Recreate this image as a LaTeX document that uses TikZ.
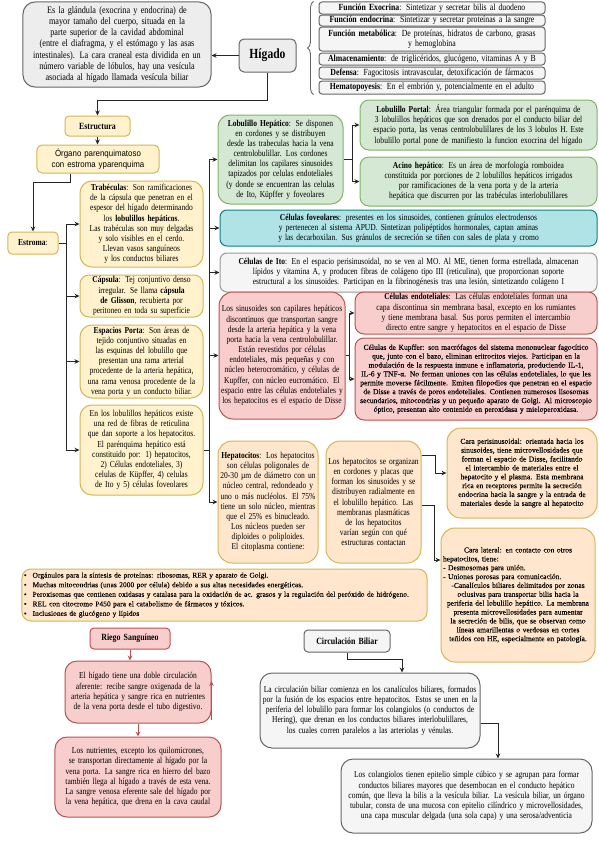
\documentclass[tikz,border=0pt]{standalone}
\usepackage{fontspec}
\setmainfont{Liberation Serif}[FakeStretch=0.83]
\newfontfamily\sansf{Liberation Sans}[FakeStretch=0.9]
\newfontfamily\wfont{Liberation Serif}[FakeBold=0.1]
\newfontfamily\lsfont{Liberation Serif}[LetterSpace=1,FakeBold=0.1]
\usetikzlibrary{arrows.meta,decorations.pathreplacing}
\definecolor{gfill}{HTML}{F5F5F5}
\definecolor{gdraw}{HTML}{666666}
\definecolor{yfill}{HTML}{FFF2CC}
\definecolor{ydraw}{HTML}{D6B656}
\definecolor{vfill}{HTML}{D5E8D4}
\definecolor{vdraw}{HTML}{82B366}
\definecolor{tfill}{HTML}{B0E3E6}
\definecolor{tdraw}{HTML}{0E8088}
\definecolor{rfill}{HTML}{F8CECC}
\definecolor{rdraw}{HTML}{B85450}
\definecolor{pfill}{HTML}{FFE6CC}
\definecolor{pdraw}{HTML}{D79B00}
\newcommand\fsD{\fontsize{9.9}{11.2}\selectfont}
\newcommand\fsM{\fontsize{9.1}{10.2}\selectfont}
\newcommand\fsF{\fontsize{9.4}{10}\selectfont}
\newcommand\fsS{\wfont\fontsize{7.6}{8.9}\selectfont}
\newcommand\fsB{\lsfont\fontsize{7.4}{9.6}\selectfont}
\newcommand\bx[7]{%
  \pgfmathsetmacro\tw{#4-4}%
  \node[box,#6,minimum width=#4bp,minimum height=#5bp,text width=\tw bp] (#1) at ({#2+#4/2},{#3+#5/2}) {#7};}
\begin{document}
\hyphenpenalty=10000 \exhyphenpenalty=10000
\begin{tikzpicture}[x=1bp,y=-1bp,
  box/.style={draw, rounded corners=9bp, align=center, inner xsep=2bp, inner ysep=1bp, line width=1bp, font=\fsM},
  gbox/.style={fill=gfill, draw=gdraw},
  ybox/.style={fill=yfill, draw=ydraw},
  vbox/.style={fill=vfill, draw=vdraw},
  tbox/.style={fill=tfill, draw=tdraw},
  rbox/.style={fill=rfill, draw=rdraw},
  pbox/.style={fill=pfill, draw=pdraw},
  fbox/.style={fill=gfill, draw=gdraw, rounded corners=3bp, font=\fsF},
  arr/.style={-{Stealth[length=5bp,width=4.5bp]}, line width=0.9bp, draw=black!85},
  ln/.style={line width=0.9bp, draw=black!85},
  arrr/.style={-{Stealth[length=5bp,width=4.5bp]}, line width=0.9bp, draw=rdraw}]
\fill[white] (0,0) rectangle (599,848);
\useasboundingbox (0,0) rectangle (599,848);

% top
\bx{desc}{23}{2}{188}{85}{gbox,fill=black!7,rounded corners=12bp,font=\fsD}{Es la glándula (exocrina y endocrina) de mayor tamaño del cuerpo, situada en la parte superior de la cavidad abdominal (entre el diafragma, y el estómago y las asas intestinales). La cara craneal esta dividida en un número variable de lóbulos, hay una vesícula asociada al hígado llamada vesícula biliar}
\bx{higado}{239}{39}{57}{33}{gbox,fill=black!7,rounded corners=5bp,font=\fontsize{14}{16}\selectfont\bfseries}{Hígado}
\bx{f1}{319}{2}{226}{12}{fbox}{\textbf{Función Exocrina}: Sintetizar y secretar bilis al duodeno}
\bx{f2}{319}{15}{226}{11}{fbox}{\textbf{Función endocrina}: Sintetizar y secretar proteínas a la sangre}
\bx{f3}{319}{27}{226}{24}{fbox}{\textbf{Función metabólica}: De proteínas, hidratos de carbono, grasas\\ y hemoglobina}
\bx{f4}{319}{53}{226}{12}{fbox}{\textbf{Almacenamiento}: de triglicéridos, glucógeno, vitaminas A y B}
\bx{f5}{319}{67}{226}{12}{fbox}{\textbf{Defensa}: Fagocitosis intravascular, detoxificación de fármacos}
\bx{f6}{319}{81}{226}{13}{fbox}{\textbf{Hematopoyesis}: En el embrión y, potencialmente en el adulto}
\draw[gdraw, line width=0.9bp, decorate, decoration={brace, amplitude=6bp}] ([xshift=-5bp]f6.south west) -- ([xshift=-5bp]f1.north west);

% structure
\bx{estructura}{65}{116}{65}{20}{ybox,rounded corners=4bp,font=\fontsize{9.5}{11}\selectfont\bfseries}{Estructura}
\bx{organo}{37}{145}{122}{28}{ybox,rounded corners=5bp,font=\sansf\fontsize{8.8}{11.5}\selectfont}{Órgano parenquimatoso con estroma yparenquima}
\bx{estroma}{8}{232}{50}{22}{ybox,rounded corners=4bp}{\textbf{Estroma}:}
\bx{trab}{80}{181}{123}{86}{ybox,rounded corners=12bp}{\textbf{Trabéculas}: Son ramificaciones de la cápsula que penetran en el espesor del hígado determinando los \textbf{lobulillos hepáticos}.\\ Las trabéculas son muy delgadas y solo visibles en el cerdo. Llevan vasos sanguíneos y los conductos biliares}
\bx{caps}{80}{275}{123}{42}{ybox}{\textbf{Cápsula}: Tej conjuntivo denso irregular. Se llama \textbf{cápsula de Glisson}, recubierta por peritoneo en toda su superficie}
\bx{porta}{80}{325}{123}{73}{ybox,rounded corners=12bp}{\textbf{Espacios Porta}: Son áreas de tejido conjuntivo situadas en las esquinas del lobulillo que presentan una rama arterial procedente de la arteria hepática, una rama venosa procedente de la vena porta y un conducto biliar.}
\bx{enlos}{80}{405}{123}{90}{ybox,rounded corners=12bp}{En los lobulillos hepáticos existe una red de fibras de reticulina que dan soporte a los hepatocitos.\\ El parénquima hepático está constituido por: 1) hepatocitos, 2) Células endoteliales, 3) celulas de Küpffer, 4) celulas de Ito y 5) células foveolares}

% right column
\bx{lobhep}{218}{115}{125}{89}{vbox,rounded corners=12bp}{\textbf{Lobulillo Hepático}: Se disponen en cordones y se distribuyen desde las trabeculas hacia la vena centrolobulillar. Los cordones delimitan los capilares sinusoides tapizados por celulas endoteliales (y donde se encuentran las celulas de Ito, Küpffer y foveolares}
\bx{portal}{360}{100}{237}{50}{vbox}{\textbf{Lobulillo Portal}: Área triangular formada por el parénquima de 3 lobulillos hepáticos que son drenados por el conducto biliar del espacio porta, las venas centrolobulillares de los 3 lobulos H. Este lobulillo portal pone de manifiesto la funcion exocrina del hígado}
\bx{acino}{360}{157}{237}{49}{vbox}{\textbf{Acino hepático}: Es un área de morfología romboidea constituida por porciones de 2 lobulillos hepáticos irrigados por ramificaciones de la vena porta y de la arteria hepática que discurren por las trabéculas interlobulillares}
\bx{fov}{220}{210}{377}{36}{tbox,rounded corners=7bp}{\textbf{Células foveolares}: presentes en los sinusoides, contienen gránulos electrodensos y pertenecen al sistema APUD. Sintetizan polipéptidos hormonales, captan aminas y las decarboxilan. Sus gránulos de secreción se tiñen con sales de plata y cromo}
\bx{ito}{220}{253}{377}{39}{gbox,draw=black!40,rounded corners=7bp}{\textbf{Células de Ito}: En el espacio perisinusoidal, no se ven al MO. Al ME, tienen forma estrellada, almacenan lípidos y vitamina A, y producen fibras de colágeno tipo III (reticulina), que proporcionan soporte estructural a los sinusoides. Participan en la fibrinogénesis tras una lesión, sintetizando colágeno I}
\bx{sinus}{219}{292}{126}{127}{rbox,rounded corners=14bp}{Los sinusoides son capilares hepáticos discontinuos que transportan sangre desde la arteria hepática y la vena porta hacia la vena centrolobulillar. Están revestidos por células endoteliales, más pequeñas y con núcleo heterocromático, y células de Kupffer, con núcleo eucromático. El espacio entre las células endoteliales y los hepatocitos es el espacio de Disse}
\bx{endo}{355}{292}{242}{42}{rbox}{\textbf{Células endoteliales}: Las células endoteliales forman una capa discontinua sin membrana basal, excepto en los rumiantes y tiene membrana basal. Sus poros permiten el intercambio directo entre sangre y hepatocitos en el espacio de Disse}
\bx{kupf}{355}{338}{242}{82}{rbox,font=\fsS}{Células de Kupffer: son macrófagos del sistema mononuclear fagocítico que, junto con el bazo, eliminan eritrocitos viejos. Participan en la modulación de la respuesta inmune e inflamatoria, produciendo IL-1, IL-6 y TNF-α. No forman uniones con las células endoteliales, lo que les permite moverse fácilmente. Emiten filopodios que penetran en el espacio de Disse a través de poros endoteliales. Contienen numerosos lisosomas secundarios, mitocondrias y un pequeño aparato de Golgi. Al microscopio óptico, presentan alto contenido en peroxidasa y mieloperoxidasa.}
\bx{hepa}{218}{441}{100}{122}{pbox,draw=ydraw,rounded corners=14bp}{\textbf{Hepatocitos}: Los hepatocitos son células poligonales de 20-30 µm de diámetro con un núcleo central, redondeado y uno o más nucléolos. El 75\% tiene un solo núcleo, mientras que el 25\% es binucleado. Los núcleos pueden ser diploides o poliploides. El citoplasma contiene:}
\bx{org}{326}{441}{95}{122}{pbox,draw=ydraw,rounded corners=14bp}{Los hepatocitos se organizan en cordones y placas que forman los sinusoides y se distribuyen radialmente en el lobulillo hepático. Las membranas plasmáticas de los hepatocitos varían según con qué estructuras contactan}
\bx{peri}{447}{428}{150}{90}{pbox,draw=ydraw,rounded corners=14bp,font=\fsS}{Cara perisinusoidal: orientada hacia los sinusoides, tiene microvellosidades que forman el espacio de Disse, facilitando el intercambio de materiales entre el hepatocito y el plasma. Esta membrana rica en receptores permite la secreción endocrina hacia la sangre y la entrada de materiales desde la sangre al hepatocito}
\bx{lat}{441}{528}{154}{134}{pbox,draw=ydraw,rounded corners=14bp,font=\fsS}{Cara lateral: en contacto con otros\par{\raggedright hepatocitos, tiene:\\- Desmosomas para unión.\\- Uniones porosas para comunicación.\par}-Canalículos biliares delimitados por zonas oclusivas para transportar bilis hacia la periferia del lobulillo hepático. La membrana presenta microvellosidades para aumentar la secreción de bilis, que se observan como líneas amarillentas o verdosas en cortes teñidos con HE, especialmente en patología.}
\bx{bul}{22}{569}{405}{52}{pbox,draw=ydraw,rounded corners=9bp,align=left,font=\fsB}{\textbullet\hspace{6bp}Orgánulos para la síntesis de proteínas: ribosomas, RER y aparato de Golgi.\\
\textbullet\hspace{6bp}Muchas mitocondrias (unas 2000 por célula) debido a sus altas necesidades energéticas.\\
\textbullet\hspace{6bp}Peroxisomas que contienen oxidasas y catalasa para la oxidación de ac. grasos y la regulación del peróxido de hidrógeno.\\
\textbullet\hspace{6bp}REL con citocromo P450 para el catabolismo de fármacos y tóxicos.\\
\textbullet\hspace{6bp}Inclusiones de glucógeno y lípidos}

% riego
\bx{riego}{90}{628}{80}{21}{rbox,rounded corners=4bp,font=\fontsize{9.5}{11}\selectfont\bfseries}{Riego Sanguíneo}
\bx{r1}{65}{661}{146}{62}{rbox,rounded corners=12bp}{El hígado tiene una doble circulación aferente: recibe sangre oxigenada de la arteria hepática y sangre rica en nutrientes de la vena porta desde el tubo digestivo.}
\bx{r2}{55}{737}{166}{80}{rbox,rounded corners=12bp}{Los nutrientes, excepto los quilomicrones, se transportan directamente al hígado por la vena porta. La sangre rica en hierro del bazo también llega al hígado a través de esta vena. La sangre venosa eferente sale del hígado por la vena hepática, que drena en la cava caudal}

% biliar
\bx{circ}{304}{630}{86}{22}{gbox,rounded corners=4bp,font=\fontsize{9.5}{11}\selectfont\bfseries}{Circulación Biliar}
\bx{b3}{260}{673}{220}{75}{gbox,rounded corners=12bp}{La circulación biliar comienza en los canalículos biliares, formados por la fusión de los espacios entre hepatocitos. Estos se unen en la periferia del lobulillo para formar los colangiolos (o conductos de Hering), que drenan en los conductos biliares interlobulillares, los cuales corren paralelos a las arteriolas y vénulas.}
\bx{b4}{341}{759}{251}{74}{gbox,rounded corners=12bp}{Los colangiolos tienen epitelio simple cúbico y se agrupan para formar conductos biliares mayores que desembocan en el conducto hepático común, que lleva la bilis a la vesícula biliar. La vesícula biliar, un órgano tubular, consta de una mucosa con epitelio cilíndrico y microvellosidades, una capa muscular delgada (una sola capa) y una serosa/adventicia}

% connectors
\draw[arr] (higado.west) -- (higado.west -| desc.east);
\draw[arr] (higado.south) |- (estructura.north |- 0,100) -- (estructura.north);
\draw[arr] (estructura.south) -- (organo.north -| estructura.south);
\draw[arr] (organo.south -| 70,0) -- (70,182) -| (estroma.north);
\coordinate (ej) at (66,0 |- estroma.east);
\draw[ln] (estroma.east) -- (ej);
\draw[arr] (ej) |- (trab.west);
\draw[arr] (ej) |- (caps.west);
\draw[arr] (ej) |- (porta.west);
\draw[arr] (ej) |- (enlos.west);
\coordinate (rj) at (209,0 |- enlos.east);
\draw[ln] (enlos.east) -- (rj);
\draw[arr] (rj) |- (lobhep.west);
\draw[arr] (rj) |- (fov.west);
\draw[arr] (rj) |- (ito.west);
\draw[arr] (rj) |- (sinus.west);
\draw[arr] (rj) |- (hepa.west);
\coordinate (lj) at (352,0 |- lobhep.east);
\draw[ln] (lobhep.east) -- (lj);
\draw[arr] (lj) |- (portal.west);
\draw[arr] (lj) |- (acino.west);
\coordinate (sj) at (349,0 |- sinus.east);
\draw[ln] (sinus.east) -- (sj);
\draw[arr] (sj) |- (endo.west);
\draw[arr] (sj) |- (kupf.west);
\coordinate (o1) at (org.east |- 0,455);
\coordinate (o2) at (org.east |- 0,505);
\draw[arr] (o1) -- (435,455) |- (peri.west);
\draw[arr] (o2) -- (434,505) |- (lat.west |- 0,560);
\draw[arrr] (riego.south) -- (riego.south |- r1.north);
\draw[arrr] (r1.south) -- (r1.south |- r2.north);
\coordinate (rx) at (r1.east |- 0,720);
\draw[arrr] (rx) -- (r1.east |- 0,681);
\draw[arr] (circ.south) -- ++(0,7) -| (b3.north -| 402,0);
\draw[arr] (b3.east |- 0,723) -| (b4.north -| 498,0);
\end{tikzpicture}
\end{document}
